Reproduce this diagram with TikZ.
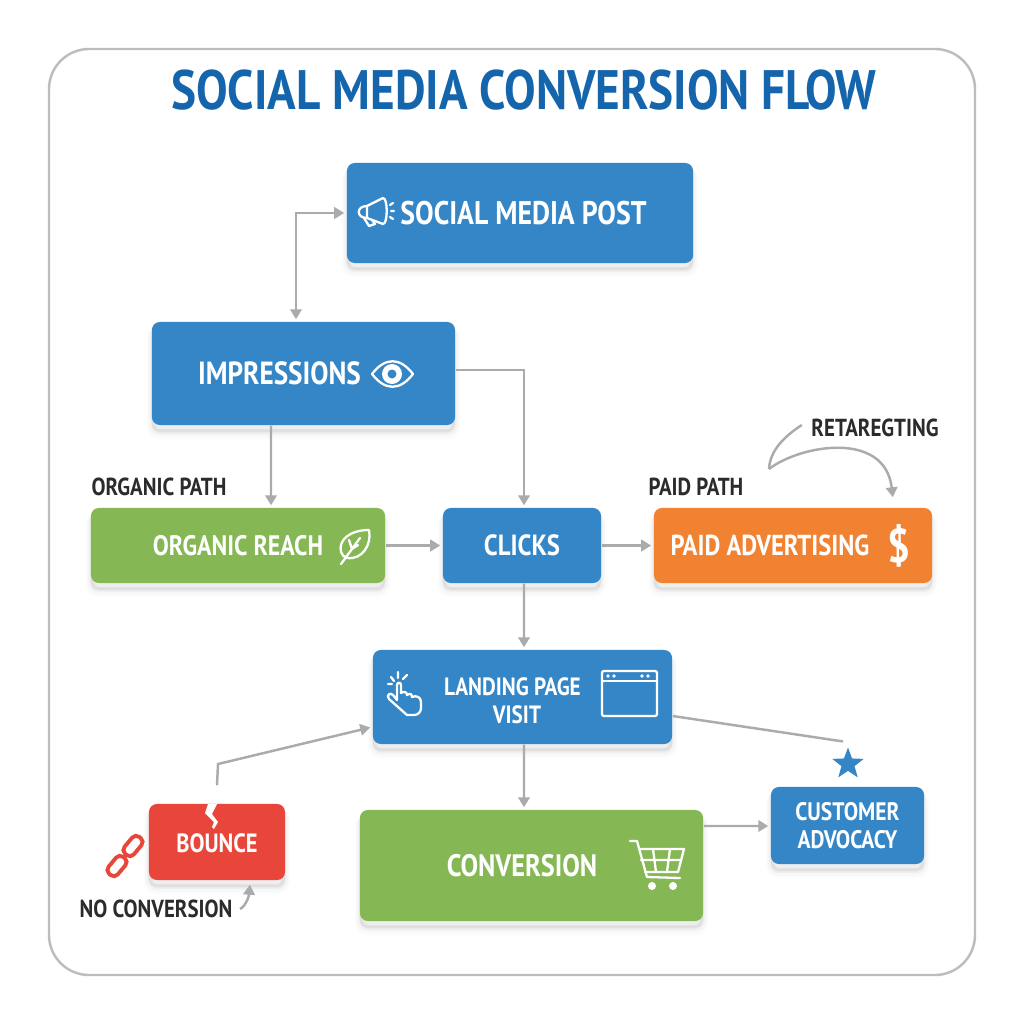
\documentclass[tikz,border=0pt]{standalone}
\usepackage{fontspec}
\setmainfont[FakeStretch=0.85]{PT Sans}
\usetikzlibrary{arrows.meta,shadows,shapes.geometric}

\definecolor{flowblue}{HTML}{3586C6}
\definecolor{flowgreen}{HTML}{85B854}
\definecolor{floworange}{HTML}{F08232}
\definecolor{flowred}{HTML}{E8463A}
\definecolor{titleblue}{HTML}{1565AD}
\definecolor{linegray}{HTML}{ABABAB}
\definecolor{framegray}{HTML}{BDBDBD}
\definecolor{labeldark}{HTML}{2B2B2B}

\newcommand{\boxfont}[1]{\fontsize{#1}{8}\selectfont\bfseries}

\tikzset{
    softshadow/.style={
        general shadow={shadow yshift=-0.09cm, draw=black, fill=black, line width=3pt, opacity=0.012},
        general shadow={shadow yshift=-0.08cm, draw=black, fill=black, line width=2.2pt, opacity=0.016},
        general shadow={shadow yshift=-0.07cm, draw=black, fill=black, line width=1.4pt, opacity=0.02},
        general shadow={shadow yshift=-0.06cm, draw=black, fill=black, line width=0.6pt, opacity=0.02}},
    box/.style={rounded corners=0.08cm, inner sep=0pt, align=center, text=white, softshadow},
    pathlabel/.style={inner sep=0pt, text=labeldark, font=\boxfont{7}},
    tip/.tip={Triangle[length=0.1cm, width=0.115cm, fill=linegray]},
    flowline/.style={draw=linegray, line width=0.7pt, shorten >=0.02cm, -tip},
    plainline/.style={draw=linegray, line width=0.7pt},
    iconline/.style={draw=white, line width=0.65pt, line join=round, line cap=round}
}

\begin{document}
\begin{tikzpicture}[x=0.01cm, y=-0.01cm]
    \useasboundingbox (0,0) rectangle (1024,1024);
    \fill[white] (0,0) rectangle (1024,1024);
    \draw[framegray, line width=0.7pt, rounded corners=0.4cm] (49,49) rectangle (975,975);

    % Title
    \node[inner sep=0pt, text=titleblue, font=\boxfont{15.8}] (title) at (524,90) {SOCIAL MEDIA CONVERSION FLOW};

    % Nodes
    \node[box, fill=flowblue, minimum width=3.46cm, minimum height=1cm, font=\boxfont{9.3}] (post) at (520,213) {\hspace*{0.07cm}SOCIAL MEDIA POST};
    \node[box, fill=flowblue, minimum width=3.03cm, minimum height=1.03cm, font=\boxfont{9.1}] (impressions) at (303.5,373.5) {IMPRESSIONS\hspace*{0.48cm}};
    \node[box, fill=flowgreen, minimum width=2.94cm, minimum height=0.75cm, font=\boxfont{8}] (organic) at (238,545.5) {ORGANIC REACH};
    \node[box, fill=flowblue, minimum width=1.58cm, minimum height=0.75cm, font=\boxfont{8.3}] (clicks) at (522,545.5) {CLICKS};
    \node[box, fill=floworange, minimum width=2.78cm, minimum height=0.75cm, font=\boxfont{8.2}] (paid) at (793,545.5) {PAID ADVERTISING\hspace*{0.46cm}};
    \node[box, fill=flowblue, minimum width=2.99cm, minimum height=0.94cm, font=\boxfont{7.1}] (landing) at (522.5,697) {\rule{0pt}{0.26cm}LANDING PAGE\hspace*{0.2cm}\\VISIT\hspace*{0.11cm}};
    \node[box, fill=flowred, minimum width=1.36cm, minimum height=0.76cm, font=\boxfont{7.5}] (bounce) at (217,842) {\rule{0pt}{0.22cm}BOUNCE};
    \node[box, fill=flowgreen, minimum width=3.43cm, minimum height=1.11cm, font=\boxfont{8.8}] (conversion) at (531.5,865.5) {CONVERSION\hspace*{0.19cm}};
    \node[box, fill=flowblue, minimum width=1.53cm, minimum height=0.77cm, font=\boxfont{7.2}] (advocacy) at (847.5,825.5) {CUSTOMER\\ADVOCACY};
    \node[star, star points=5, star point ratio=2.4, fill=flowblue, inner sep=0pt, minimum size=0.33cm] (star) at (848,764) {};

    % Labels
    \node[pathlabel] (organiclabel) at (159,487) {ORGANIC PATH};
    \node[pathlabel] (paidlabel) at (696,487) {PAID PATH};
    \node[pathlabel] (retargetlabel) at (875,428) {RETAREGTING};
    \node[pathlabel] (nolabel) at (156,909) {NO CONVERSION};
    \node[inner sep=0pt, text=white, font=\boxfont{13.5}] (dollar) at (899,546) {\$};

    % Edges
    \draw[flowline, tip-tip] ([xshift=-0.075cm, yshift=0.02cm]impressions.north) |- (post.west);
    \draw[flowline] ([yshift=0.035cm]impressions.east) -| ([xshift=0.02cm]clicks.north);
    \draw[flowline] ([xshift=-0.325cm]impressions.south) -- ([xshift=0.33cm]organic.north);
    \draw[flowline] (organic.east) -- (clicks.west);
    \draw[flowline] (clicks.east) -- (paid.west);
    \draw[flowline] ([xshift=0.02cm]clicks.south) -- ([xshift=0.015cm]landing.north);
    \draw[flowline] ([xshift=0.015cm]landing.south) -- ([xshift=-0.075cm]conversion.north);
    \draw[flowline] ([yshift=0.18cm]bounce.north) -- (218,764) -- ([yshift=-0.3cm]landing.west);
    \draw[plainline] ([yshift=-0.19cm]landing.east) -- ([xshift=-0.05cm, yshift=0.04cm]star.north);
    \draw[flowline] ([yshift=0.395cm]conversion.east) -- ([yshift=-0.005cm]advocacy.west);
    \draw[plainline] ([xshift=-0.09cm, yshift=0.03cm]retargetlabel.west) .. controls (785,436) and (770,450) .. (769,469) coordinate (retargetbend);
    \draw[flowline] (retargetbend) .. controls (800,445) and (885,430) .. ([xshift=1cm, yshift=0.08cm]paid.north);
    \draw[flowline] ([xshift=0.07cm]nolabel.east) .. controls (246,906) and (249,896) .. ([xshift=0.33cm, yshift=-0.02cm]bounce.south);

    % Icons
    \draw[iconline] (383,198) -- (367,206) .. controls (356,206) and (356,218) .. (367,218) -- (383,224) .. controls (388,224) and (388,198) .. (383,198);
    \draw[iconline] (367,206) -- (367,218) (364,218) -- (369,226) -- (375,224) -- (372,220);
    \draw[iconline] (390,205) -- (393,203) (391,211) -- (394,211) (390,217) -- (393,219);

    \draw[iconline] (372,374) .. controls (385,357) and (400,357) .. (413,374) .. controls (400,391) and (385,391) .. cycle;
    \fill[white] (392,374) circle (10);
    \fill[flowblue] (392,374) circle (4.5);

    \draw[iconline] (369,530) .. controls (350,530) and (338,540) .. (341,552) .. controls (342,555) and (344,557) .. (347,558) .. controls (362,560) and (372,545) .. (369,530);
    \draw[iconline] (341,564) -- (360,538) (349,540) -- (352,549) (352,549) -- (358,545);

    \draw[iconline] (397,685) .. controls (397,682) and (401,682) .. (401,685) -- (401,693) .. controls (404,691) and (407,692) .. (407,695) .. controls (410,693) and (412,694) .. (412,697) .. controls (416,695) and (421,697) .. (421,702) -- (421,708) .. controls (421,712) and (418,715) .. (414,715) -- (407,715) -- (389,699) .. controls (386,695) and (390,692) .. (393,695) -- (397,700) -- cycle;
    \draw[iconline] (398,672) -- (398,678) (391,677) -- (394,681) (388,684) -- (392,684) (407,675) -- (403,679);

    \draw[iconline, rounded corners=0.02cm] (602,671) rectangle (657,716);
    \draw[iconline] (602,681) -- (657,681);
    \foreach \dotx in {608,614,642,648} {
        \fill[white] (\dotx,676) circle (1.8);
    }

    \draw[iconline] (630,841) -- (637,841) -- (647,877) -- (680,878);
    \draw[iconline] (639,849) -- (684,849) -- (678,872) -- (645,872);
    \draw[iconline] (641,860) -- (681,860) (653,849) -- (656,872) (670,849) -- (667,872);
    \fill[white] (652,886) circle (4) (673,886) circle (4);

    \fill[white] (208,804) -- (217,804) -- (212,814) -- (218,822) -- (214,829) -- (212,827) -- (214,822) -- (205,813) -- cycle;

    \draw[flowred, line width=1.1pt, rounded corners=0.05cm, rotate around={50:(133,846)}] (122,840) rectangle (144,852);
    \draw[flowred, line width=1.1pt, rounded corners=0.05cm, rotate around={50:(117,866)}] (106,860) rectangle (128,872);
\end{tikzpicture}
\end{document}
